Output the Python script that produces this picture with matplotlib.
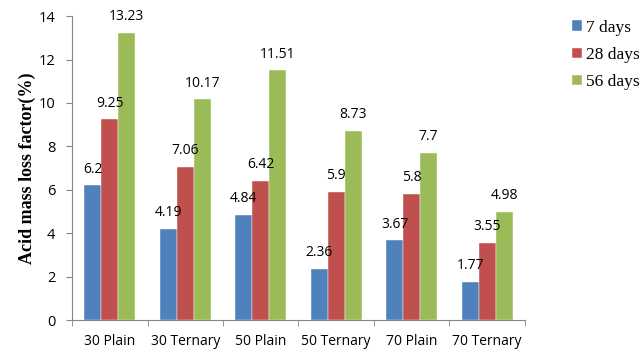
import numpy as np
import matplotlib
matplotlib.use("Agg")
import matplotlib.pyplot as plt

categories = ["30 Plain", "30 Ternary", "50 Plain", "50 Ternary", "70 Plain", "70 Ternary"]
days_7 = [6.2, 4.19, 4.84, 2.36, 3.67, 1.77]
days_28 = [9.25, 7.06, 6.42, 5.9, 5.8, 3.55]
days_56 = [13.23, 10.17, 11.51, 8.73, 7.7, 4.98]
series_names = ["7 days", "28 days", "56 days"]
colors = ["#4F81BD", "#C0504D", "#9BBB59"]

fig = plt.figure(figsize=(6.44, 3.51), dpi=100)
ax = fig.add_axes([0.112, 0.088, 0.703, 0.866])

x = np.arange(len(categories))
w = 0.225
for i, (vals, name, c) in enumerate(zip([days_7, days_28, days_56], series_names, colors)):
    pos = x + (i - 1) * w
    ax.bar(pos, vals, w, color=c, label=name, edgecolor="white", linewidth=0.3)
    for p, v in zip(pos, vals):
        ax.text(p, v + 0.4, f"{v:g}", ha="center", va="bottom", fontsize=10,
                family="Open Sans", color="black")

ax.set_xlim(-0.5, len(categories) - 0.5)
ax.set_ylim(0, 14)
ax.set_yticks(np.arange(0, 15, 2))
ax.set_xticks(x)
ax.set_xticklabels(categories, family="Open Sans", fontsize=10)
ax.set_xticks(np.arange(-0.5, len(categories)), minor=True)
ax.tick_params(axis="x", which="major", length=0, pad=10)
ax.tick_params(axis="x", which="minor", length=4, color="#868686")
ax.tick_params(axis="y", length=4, color="#868686", labelsize=10.5, pad=8)
for lab in ax.get_yticklabels():
    lab.set_family("Open Sans")

for s in ["top", "right"]:
    ax.spines[s].set_visible(False)
for s in ["left", "bottom"]:
    ax.spines[s].set_color("#868686")

ax.set_ylabel("Acid mass loss factor(%)", family="Liberation Serif", fontweight="bold",
              fontsize=13, labelpad=2)

ax.legend(loc="upper left", bbox_to_anchor=(1.07, 1.04), frameon=False,
          prop={"family": "Liberation Serif", "size": 12.5},
          handlelength=0.55, handleheight=0.55, handletextpad=0.25, labelspacing=0.65)

fig.savefig("out.png", dpi=100)
